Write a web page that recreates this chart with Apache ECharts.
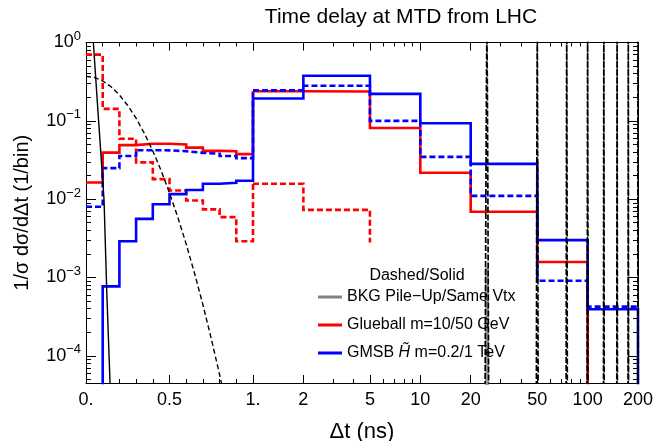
<!DOCTYPE html>
<html><head><meta charset="utf-8">
<script src="https://cdn.jsdelivr.net/npm/echarts@6/dist/echarts.min.js"></script>
<style>html,body{margin:0;padding:0;background:#fff}#c{width:668px;height:441px}</style>
</head><body><div id="c"></div>
<script>
// ---------------- data ----------------
// bin edges: linear part 0..1 ns, log part 1..200 ns
const linEdges = [0, 0.1, 0.2, 0.3, 0.4, 0.5, 0.6, 0.7, 0.8, 0.9, 1.0];
const logEdges = [1, 2, 5, 10, 20, 50, 100, 200];

// Glueball m=50 GeV (solid red)
const glueball50Lin = [0.0163, 0.0393, 0.049, 0.051, 0.051, 0.050, 0.0455, 0.0414, 0.041, 0.0376];
const glueball50Log = [0.239, 0.237, 0.081, 0.0217, 0.0069, 0.00158, null];
// Glueball m=10 GeV (dashed red)
const glueball10Lin = [0.70, 0.142, 0.059, 0.0295, 0.018, 0.0129, 0.0096, 0.0074, 0.0059, 0.0029];
const glueball10LogEdges = [1, 2, 5];
const glueball10Log = [0.0157, 0.0073];
const glueball10End = 0.0028;
// GMSB Higgsino m=1 TeV (solid blue)
const gmsb1Lin = [null, 0.00077, 0.0029, 0.0056, 0.0086, 0.0116, 0.0131, 0.0157, 0.0162, 0.0172];
const gmsb1Log = [0.193, 0.376, 0.221, 0.093, 0.0282, 0.0030, 0.000394];
// GMSB Higgsino m=0.2 TeV (dashed blue)
const gmsb02Lin = [0.0080, 0.0249, 0.0355, 0.0422, 0.0420, 0.0410, 0.0390, 0.0380, 0.0356, 0.0334];
const gmsb02Log = [0.245, 0.28, 0.100, 0.0347, 0.0110, 0.00091, 0.000425];

// BKG same vertex (solid black curve)
const sameVtxT = [0.044, 0.0755, 0.108, 0.124, 0.144];
const sameVtxV = [1.0, 0.1, 0.0098, 0.00069, 0.000045];
// BKG pile-up (dashed black curve)
const pileUpT = [0, 0.05, 0.1, 0.15, 0.2, 0.25, 0.3, 0.35, 0.4, 0.45, 0.5, 0.55, 0.6, 0.65, 0.7, 0.75, 0.8, 0.85];
const pileUpV = [0.37, 0.358, 0.323, 0.272, 0.214, 0.157, 0.108, 0.069, 0.0413, 0.0231, 0.0120, 0.00587, 0.00267, 0.00113, 0.000449, 0.000166, 0.0000576, 0.0000185];
// pile-up from later bunch crossings (narrow spikes)
const bunchT = [25, 50, 75, 100, 125, 150, 175, 200];
const spikeOffsets = [-0.6, -0.35, -0.15, 0, 0.15, 0.35, 0.6];
const spikeLevels = [0.00004, 0.01, 0.3, 1.5, 0.3, 0.01, 0.00004];
// gray BKG marker at 25 ns
const grayT = 25;
const grayTop = 0.00135;
const emptyBin = 1e-7; // empty bin (below the plotted range)

// tick labels
const xLinMajor = [0, 0.5, 1];
const xLinLabels = ['0.', '0.5', '1.'];
const xLinMinor = [0.1, 0.2, 0.3, 0.4, 0.6, 0.7, 0.8, 0.9];
const xLogMajor = [1, 2, 5, 10, 20, 50, 100, 200];
const xLogLabelled = [2, 5, 10, 20, 50, 100, 200];
const xLogMinor = [3, 4, 6, 7, 8, 9, 30, 40, 60, 70, 80, 90];
const yMajor = [1e-4, 1e-3, 1e-2, 1e-1, 1];
const yMinorMult = [2, 3, 4, 5, 6, 7, 8, 9];

const Y_MIN = 4.5e-5, Y_MAX = 1;
const FONT = '"Liberation Sans", Arial, sans-serif';
const RED = '#ff0000', BLUE = '#0000ff', GRAY = '#9a9a9a';

const NAME_BKG = 'BKG Pile\u2212Up/Same Vtx';
const NAME_GB = 'Glueball m=10/50 GeV';
const NAME_GM = 'GMSB H\u0303 m=0.2/1 TeV';

// ---------------- helpers ----------------
function stepData(edges, vals, next) {
  const out = [];
  for (let i = 0; i < vals.length; i++) out.push([edges[i], vals[i] == null ? emptyBin : vals[i]]);
  out.push([edges[vals.length], next == null ? emptyBin : next]);
  return out;
}
function zip(a, b) { return a.map((v, i) => [v, b[i]]); }

const yMinor = [];
[1e-5, 1e-4, 1e-3, 1e-2, 1e-1].forEach(d => yMinorMult.forEach(m => {
  const v = +(d * m).toPrecision(3);
  if (v > Y_MIN && v < Y_MAX) yMinor.push(v);
}));

function xAxisDef(grid, type, min, max, pos, ticks, len, showLine, labels, fmt) {
  return {
    type: type, gridIndex: grid, min: min, max: max, position: pos, logBase: 10,
    axisLine: { show: showLine, onZero: false, lineStyle: { color: '#000', width: 1 } },
    axisTick: { show: true, inside: true, length: len, customValues: ticks, lineStyle: { color: '#000', width: 1 } },
    axisLabel: labels ? { show: true, customValues: labels, formatter: fmt, margin: 8, color: '#000', fontSize: 18, fontFamily: FONT } : { show: false },
    splitLine: { show: false }, minorTick: { show: false }
  };
}
function yAxisDef(grid, pos, ticks, len, showLine, labels, extra) {
  return Object.assign({
    type: 'log', logBase: 10, gridIndex: grid, min: Y_MIN, max: Y_MAX, position: pos,
    axisLine: { show: showLine, onZero: false, lineStyle: { color: '#000', width: 1 } },
    axisTick: { show: true, inside: true, length: len, customValues: ticks, lineStyle: { color: '#000', width: 1 } },
    axisLabel: labels ? {
      show: true, customValues: labels, margin: 5, color: '#000', fontFamily: FONT,
      formatter: v => { const e = Math.round(Math.log10(v)); return '{b|10}{s|' + (e < 0 ? '\u2212' + (-e) : e) + '}'; },
      rich: { b: { fontSize: 18, fontFamily: FONT, color: '#000' }, s: { fontSize: 13, fontFamily: FONT, color: '#000', padding: [0, 0, 12, 0] } }
    } : { show: false },
    splitLine: { show: false }, minorTick: { show: false }
  }, extra || {});
}

function lineSeries(name, grid, data, color, width, dashed, step) {
  return {
    type: 'line', name: name, xAxisIndex: grid === 0 ? 0 : 4, yAxisIndex: grid === 0 ? 0 : 2,
    data: data, step: step ? 'end' : false, showSymbol: false, symbol: 'none', clip: true,
    silent: true, animation: false, emphasis: { disabled: true },
    lineStyle: { color: color, width: width, type: dashed ? dashed : 'solid', cap: 'butt', join: 'miter' },
    itemStyle: { color: color }
  };
}

const series = [];
// gray BKG marker
series.push(lineSeries(NAME_BKG, 1, [[grayT, emptyBin], [grayT, grayTop]], GRAY, 4, null, false));
// linear part
series.push(lineSeries(NAME_GB, 0, stepData(linEdges, glueball50Lin, glueball50Log[0]), RED, 2.6, null, true));
series.push(lineSeries(NAME_GB, 0, stepData(linEdges, glueball10Lin, glueball10Log[0]), RED, 2.6, [6, 3], true));
series.push(lineSeries(NAME_GM, 0, stepData(linEdges, gmsb1Lin, gmsb1Log[0]), BLUE, 2.6, null, true));
series.push(lineSeries(NAME_GM, 0, stepData(linEdges, gmsb02Lin, gmsb02Log[0]), BLUE, 2.6, [6, 3], true));
series.push(lineSeries(NAME_BKG, 0, zip(sameVtxT, sameVtxV), '#000', 1.4, null, false));
series.push(lineSeries(NAME_BKG, 0, zip(pileUpT, pileUpV), '#000', 1.4, [5, 3], false));
// log part
series.push(lineSeries(NAME_GB, 1, stepData(logEdges, glueball50Log, null), RED, 2.6, null, true));
series.push(lineSeries(NAME_GB, 1, stepData(glueball10LogEdges, glueball10Log, glueball10End), RED, 2.6, [6, 3], true));
series.push(lineSeries(NAME_GM, 1, stepData(logEdges, gmsb1Log, null), BLUE, 2.6, null, true));
series.push(lineSeries(NAME_GM, 1, stepData(logEdges, gmsb02Log, gmsb02Log[gmsb02Log.length - 1]), BLUE, 2.6, [6, 3], true));
bunchT.forEach(c => {
  series.push(lineSeries(NAME_BKG, 1, spikeOffsets.map((o, i) => [c + o, spikeLevels[i]]), '#000', 1.7, [6, 2], false));
});

const chart = echarts.init(document.getElementById('c'), null, { renderer: 'canvas' });
chart.setOption({
  animation: false,
  backgroundColor: '#fff',
  grid: [
    { left: 86, top: 42.5, width: 167, height: 340.5, containLabel: false, outerBoundsMode: 'none' },
    { left: 253, top: 42.5, width: 385, height: 340.5, containLabel: false, outerBoundsMode: 'none' }
  ],
  xAxis: [
    xAxisDef(0, 'value', 0, 1, 'bottom', xLinMajor, 8, true, xLinMajor, v => xLinLabels[xLinMajor.indexOf(v)] || ''),
    xAxisDef(0, 'value', 0, 1, 'bottom', xLinMinor, 4, false),
    xAxisDef(0, 'value', 0, 1, 'top', xLinMajor, 8, true),
    xAxisDef(0, 'value', 0, 1, 'top', xLinMinor, 4, false),
    xAxisDef(1, 'log', 1, 200, 'bottom', xLogMajor, 8, true, xLogLabelled, v => String(Math.round(v))),
    xAxisDef(1, 'log', 1, 200, 'bottom', xLogMinor, 4, false),
    xAxisDef(1, 'log', 1, 200, 'top', xLogMajor, 8, true),
    xAxisDef(1, 'log', 1, 200, 'top', xLogMinor, 4, false)
  ],
  yAxis: [
    yAxisDef(0, 'left', yMajor, 10, true, yMajor, {
      name: '1/\u03c3 d\u03c3/d\u0394t (1/bin)', nameLocation: 'middle', nameGap: 54, nameRotate: 90,
      nameTextStyle: { fontSize: 20, fontFamily: FONT, color: '#000' }
    }),
    yAxisDef(0, 'left', yMinor, 5, false),
    yAxisDef(1, 'right', yMajor, 10, true),
    yAxisDef(1, 'right', yMinor, 5, false)
  ],
  legend: {
    show: true, orient: 'vertical', left: 318, top: 289, padding: 0, itemGap: 12,
    itemWidth: 24, itemHeight: 3, icon: 'rect', selectedMode: false,
    textStyle: { fontSize: 16, fontFamily: FONT, color: '#000', lineHeight: 16,
      rich: { i: { fontSize: 16, fontFamily: FONT, color: '#000', fontStyle: 'italic' } } },
    formatter: n => n === NAME_GM ? 'GMSB {i|H\u0303} m=0.2/1 TeV' : n,
    data: [
      { name: NAME_BKG, itemStyle: { color: '#808080' } },
      { name: NAME_GB, itemStyle: { color: RED } },
      { name: NAME_GM, itemStyle: { color: BLUE } }
    ]
  },
  graphic: [
    { type: 'text', x: 401, y: 17, style: { text: 'Time delay at MTD from LHC', fontSize: 21, fontFamily: FONT, fill: '#000', align: 'center', verticalAlign: 'middle', textAlign: 'center', textVerticalAlign: 'middle' } },
    { type: 'text', x: 362, y: 432, style: { text: '\u0394t (ns)', fontSize: 22, fontFamily: FONT, fill: '#000', align: 'center', verticalAlign: 'middle', textAlign: 'center', textVerticalAlign: 'middle' } },
    { type: 'text', x: 417, y: 276, style: { text: 'Dashed/Solid', fontSize: 16, fontFamily: FONT, fill: '#000', align: 'center', verticalAlign: 'middle', textAlign: 'center', textVerticalAlign: 'middle' } }
  ],
  series: series
});
</script>
</body></html>
